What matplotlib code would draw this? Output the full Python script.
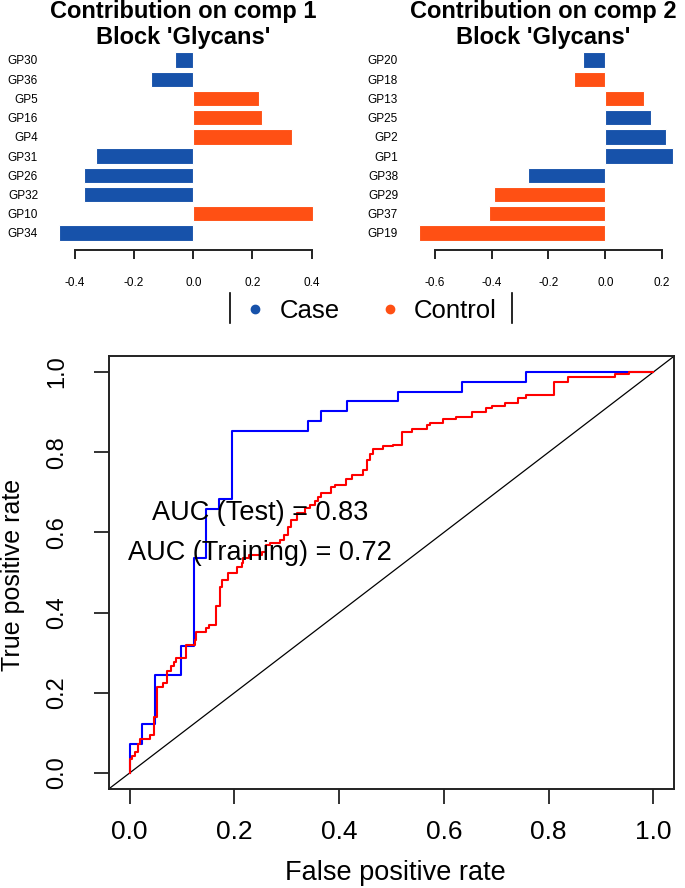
import matplotlib
matplotlib.use("Agg")
import matplotlib.pyplot as plt
from matplotlib.lines import Line2D

plt.rcParams['font.family'] = ['Liberation Sans', 'DejaVu Sans']

# ======================== DATA ========================

# loadings, listed top to bottom as drawn
comp1_names = ['GP30', 'GP36', 'GP5', 'GP16', 'GP4', 'GP31', 'GP26', 'GP32', 'GP10', 'GP34']
comp1_vals = [-0.063, -0.144, 0.223, 0.231, 0.335, -0.329, -0.368, -0.368, 0.403, -0.455]
comp1_group = ['Case', 'Case', 'Control', 'Control', 'Control', 'Case', 'Case', 'Case', 'Control', 'Case']

comp2_names = ['GP20', 'GP18', 'GP13', 'GP25', 'GP2', 'GP1', 'GP38', 'GP29', 'GP37', 'GP19']
comp2_vals = [-0.079, -0.109, 0.137, 0.162, 0.215, 0.239, -0.271, -0.392, -0.411, -0.656]
comp2_group = ['Case', 'Control', 'Control', 'Case', 'Case', 'Case', 'Case', 'Control', 'Control', 'Control']

group_colors = {'Case': '#1752AA', 'Control': '#FF5014'}

# ROC curves (fpr where the step happens, tpr after the step)
test_fpr = [0, 0, 0.0244, 0.0488, 0.0976, 0.122, 0.146, 0.171, 0.195, 0.341, 0.366, 0.415, 0.512, 0.634, 0.756, 1.0]
test_tpr = [0, 0.072, 0.122, 0.244, 0.317, 0.537, 0.659, 0.683, 0.854, 0.878, 0.902, 0.927, 0.951, 0.976, 1.0, 1.0]

train_fpr = [0, 0, 0.005, 0.010, 0.015, 0.020, 0.038, 0.046, 0.052, 0.063, 0.072, 0.079, 0.085, 0.089,
             0.108, 0.125, 0.127, 0.146, 0.152, 0.165, 0.172, 0.176, 0.187, 0.205, 0.214, 0.217, 0.227,
             0.252, 0.261, 0.268, 0.287, 0.294, 0.303, 0.309, 0.319, 0.335, 0.344, 0.354, 0.360, 0.365,
             0.384, 0.392, 0.414, 0.424, 0.446, 0.454, 0.459, 0.465, 0.484, 0.503, 0.521, 0.540, 0.567,
             0.573, 0.598, 0.623, 0.654, 0.681, 0.691, 0.716, 0.742, 0.756, 0.811, 0.837, 0.926, 0.954, 1.0]
train_tpr = [0, 0.034, 0.043, 0.053, 0.073, 0.084, 0.095, 0.14, 0.214, 0.224, 0.254, 0.268, 0.276, 0.286,
             0.318, 0.331, 0.351, 0.361, 0.370, 0.416, 0.464, 0.481, 0.499, 0.513, 0.523, 0.535, 0.543,
             0.552, 0.569, 0.573, 0.581, 0.594, 0.614, 0.631, 0.648, 0.660, 0.669, 0.679, 0.689, 0.698,
             0.713, 0.719, 0.734, 0.744, 0.756, 0.781, 0.796, 0.808, 0.816, 0.819, 0.851, 0.858, 0.869,
             0.873, 0.882, 0.888, 0.900, 0.911, 0.915, 0.923, 0.934, 0.942, 0.976, 0.987, 0.995, 1.0, 1.0]

auc_test = 0.83
auc_train = 0.72

# ======================== FIGURE ========================

W, H = 685, 888
fig = plt.figure(figsize=(W / 100, H / 100), dpi=100)


def px_axes(l, t, r, b):
    return fig.add_axes([l / W, 1 - b / H, (r - l) / W, (b - t) / H])


def loadings_panel(ax, names, vals, groups, xlim, bounds, ticks):
    n = len(names)
    ypos = list(range(n - 1, -1, -1))
    ax.barh(ypos, vals, height=0.8, color=[group_colors[g] for g in groups],
            edgecolor='white', linewidth=0.8)
    ax.set_xlim(*xlim)
    ax.set_ylim(-0.885, 9.52)
    ax.set_yticks(ypos)
    ax.set_yticklabels(names, fontsize=8.5)
    ax.tick_params(axis='y', length=0, pad=5)
    ax.set_xticks(ticks)
    ax.set_xticklabels(['%.1f' % t for t in ticks], fontsize=8.5)
    ax.tick_params(axis='x', length=6.5, width=1.4, pad=13, color='#222222')
    for s in ['left', 'right', 'top']:
        ax.spines[s].set_visible(False)
    ax.spines['bottom'].set_bounds(*bounds)
    ax.spines['bottom'].set_linewidth(1.4)
    ax.spines['bottom'].set_color('#222222')


ax1 = px_axes(45, 50, 325, 250)
loadings_panel(ax1, comp1_names, comp1_vals, comp1_group, (-0.501, 0.445), (-0.4, 0.4),
               [-0.4, -0.2, 0.0, 0.2, 0.4])

ax2 = px_axes(405, 50, 680, 250)
loadings_panel(ax2, comp2_names, comp2_vals, comp2_group, (-0.705, 0.263), (-0.6, 0.2),
               [-0.6, -0.4, -0.2, 0.0, 0.2])

# titles
for cx, num in [(183, 1), (543, 2)]:
    fig.text(cx / W, 1 - 18 / H, 'Contribution on comp %d' % num, ha='center', va='baseline',
             fontsize=17, fontweight='bold')
    fig.text(cx / W, 1 - 44 / H, "Block 'Glycans'", ha='center', va='baseline',
             fontsize=17, fontweight='bold')

# legend
for xp in [230, 512]:
    fig.add_artist(Line2D([xp / W, xp / W], [1 - 293 / H, 1 - 323 / H], color='black',
                          linewidth=1.2, transform=fig.transFigure))
for (dx, tx, lab) in [(255, 280, 'Case'), (390, 414, 'Control')]:
    fig.add_artist(Line2D([dx / W], [1 - 309 / H], marker='o', markersize=6, linestyle='none',
                          color=group_colors[lab], transform=fig.transFigure))
    fig.text(tx / W, 1 - 318 / H, lab, ha='left', va='baseline', fontsize=18.5)

# ======================== ROC ========================

ax3 = px_axes(108.7, 356, 674.3, 789)
ax3.plot([-0.04, 1.04], [-0.04, 1.04], color='black', linewidth=0.9)
ax3.plot(test_fpr, test_tpr, drawstyle='steps-post', color='blue', linewidth=1.5)
ax3.plot(train_fpr, train_tpr, drawstyle='steps-post', color='red', linewidth=1.5)
ax3.set_xlim(-0.04, 1.04)
ax3.set_ylim(-0.04, 1.04)

ticks = [0.0, 0.2, 0.4, 0.6, 0.8, 1.0]
ax3.set_xticks(ticks)
ax3.set_xticklabels(['%.1f' % t for t in ticks], fontsize=19)
ax3.set_yticks(ticks)
ax3.set_yticklabels(['%.1f' % t for t in ticks], fontsize=17, rotation=90, va='center')
ax3.tick_params(axis='both', length=11, width=1.3, color='#222222')
ax3.tick_params(axis='x', pad=11)
ax3.tick_params(axis='y', pad=18)
for s in ax3.spines.values():
    s.set_linewidth(1.4)
    s.set_color('#222222')

ax3.text(0.249, 0.649, 'AUC (Test) = %.2f' % auc_test, ha='center', va='center', fontsize=19.5)
ax3.text(0.249, 0.548, 'AUC (Training) = %.2f' % auc_train, ha='center', va='center', fontsize=19.5)

fig.text(395 / W, 1 - 873 / H, 'False positive rate', ha='center', va='center', fontsize=19.5)
fig.text(13 / W, 1 - 575 / H, 'True positive rate', ha='center', va='center', fontsize=18,
         rotation=90)

fig.savefig('out.png', dpi=100)
